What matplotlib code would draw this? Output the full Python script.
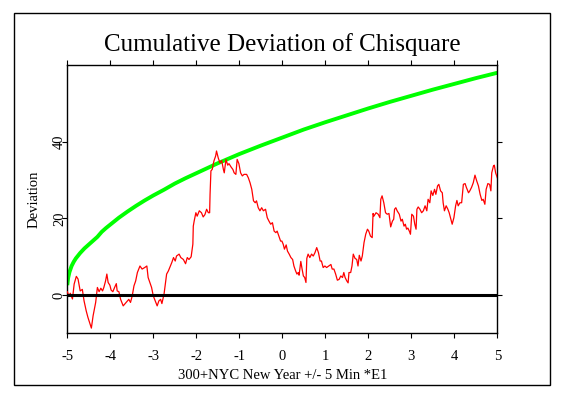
import matplotlib
matplotlib.use("Agg")
import matplotlib.pyplot as plt
from matplotlib.patches import Rectangle

# envelope (green)
env_x = [-5.0, -4.98, -4.95, -4.9, -4.85, -4.8, -4.7, -4.6, -4.5, -4.4,
         -4.3, -4.2, -4.1, -4.0, -3.8, -3.6, -3.4, -3.2, -3.0, -2.75,
         -2.5, -2.25, -2.0, -1.75, -1.5, -1.25, -1.0, -0.5, 0.0, 0.5,
         1.0, 1.5, 2.0, 2.5, 3.0, 3.5, 4.0, 4.5, 5.0]
env_y = [2.6, 4.5, 6.0, 7.6, 8.7, 9.6, 11.0, 12.2, 13.2, 14.2,
         15.2, 16.5, 17.5, 18.4, 20.2, 21.8, 23.3, 24.7, 26.0, 27.5,
         29.1, 30.5, 31.8, 33.1, 34.4, 35.6, 36.8, 39.0, 41.1, 43.2,
         45.1, 46.9, 48.7, 50.4, 52.0, 53.6, 55.1, 56.6, 58.0]

# cumulative deviation (red)
dev_x = [-5.00, -4.96, -4.93, -4.88, -4.84, -4.79, -4.75, -4.70, -4.65, -4.61,
         -4.56, -4.52, -4.47, -4.44, -4.40, -4.34, -4.30, -4.26, -4.22, -4.18,
         -4.15, -4.11, -4.08, -4.05, -4.01, -3.98, -3.94, -3.90, -3.86, -3.84,
         -3.80, -3.76, -3.70, -3.67, -3.60, -3.57, -3.53, -3.49, -3.45, -3.41,
         -3.37, -3.31, -3.26, -3.20, -3.15, -3.12, -3.08, -3.04, -3.00, -2.94,
         -2.91, -2.87, -2.83, -2.80, -2.75, -2.72, -2.69, -2.65, -2.61, -2.57,
         -2.53, -2.49, -2.46, -2.40, -2.36, -2.30, -2.25, -2.21, -2.17, -2.12,
         -2.08, -2.07, -2.05, -2.01, -1.98, -1.93, -1.88, -1.84, -1.80, -1.76,
         -1.72, -1.69, -1.68, -1.66, -1.63, -1.59, -1.55, -1.53, -1.49, -1.45,
         -1.41, -1.37, -1.35, -1.31, -1.27, -1.24, -1.19, -1.15, -1.12, -1.08,
         -1.05, -1.01, -0.97, -0.93, -0.89, -0.83, -0.79, -0.75, -0.71, -0.67,
         -0.63, -0.60, -0.56, -0.52, -0.48, -0.44, -0.39, -0.35, -0.31, -0.27,
         -0.23, -0.19, -0.15, -0.12, -0.08, -0.04, -0.01, 0.02, 0.05, 0.09,
         0.12, 0.16, 0.20, 0.24, 0.27, 0.31, 0.34, 0.37, 0.39, 0.43,
         0.46, 0.49, 0.52, 0.55, 0.57, 0.60, 0.64, 0.68, 0.72, 0.76,
         0.80, 0.84, 0.88, 0.91, 0.95, 0.99, 1.03, 1.08, 1.13, 1.16,
         1.20, 1.24, 1.28, 1.32, 1.36, 1.40, 1.43, 1.46, 1.50, 1.53,
         1.55, 1.59, 1.62, 1.65, 1.69, 1.73, 1.76, 1.79, 1.83, 1.86,
         1.90, 1.94, 1.98, 2.01, 2.05, 2.09, 2.11, 2.13, 2.18, 2.23,
         2.27, 2.29, 2.32, 2.36, 2.40, 2.44, 2.48, 2.52, 2.56, 2.59,
         2.61, 2.64, 2.67, 2.72, 2.76, 2.79, 2.83, 2.86, 2.89, 2.92,
         2.97, 2.98, 3.01, 3.05, 3.08, 3.11, 3.13, 3.16, 3.20, 3.24,
         3.28, 3.32, 3.36, 3.39, 3.43, 3.46, 3.50, 3.54, 3.57, 3.61,
         3.64, 3.68, 3.72, 3.74, 3.77, 3.81, 3.85, 3.88, 3.92, 3.95,
         3.99, 4.03, 4.06, 4.09, 4.13, 4.17, 4.21, 4.25, 4.28, 4.33,
         4.36, 4.40, 4.44, 4.48, 4.52, 4.56, 4.60, 4.64, 4.67, 4.71,
         4.74, 4.78, 4.82, 4.85, 4.87, 4.91, 4.93, 4.96, 5.00]
dev_y = [0.9, -0.2, 0.5, -1.0, 2.9, 4.9, 4.2, 1.1, 1.5, -1.5,
         -4.1, -5.8, -7.6, -8.6, -5.4, -1.9, 2.0, 0.9, 1.8, 1.1,
         2.0, 3.7, 5.5, 3.3, 2.6, 1.3, 0.9, 2.0, 3.0, 1.1,
         0.9, -1.1, -2.8, -2.4, -1.5, -1.1, -1.9, -0.2, 2.4, 3.7,
         5.9, 7.6, 6.8, 7.2, 7.6, 4.6, 3.3, 2.0, -0.2, -1.9,
         -2.8, -1.5, -1.1, -2.2, 0.3, 2.9, 5.5, 6.3, 7.4, 8.5,
         9.8, 8.9, 10.2, 10.7, 9.8, 9.3, 8.2, 9.8, 9.3, 10.0,
         13.3, 18.0, 19.3, 21.5, 20.6, 22.0, 21.5, 20.4, 21.0, 22.4,
         21.5, 21.5, 26.3, 32.4, 32.8, 35.0, 36.3, 37.6, 35.8, 34.5,
         35.1, 32.8, 31.9, 35.4, 33.9, 34.3, 33.4, 32.8, 31.9, 31.5,
         35.4, 34.3, 31.9, 31.1, 31.5, 31.5, 30.6, 29.3, 27.6, 24.6,
         24.1, 24.6, 22.8, 22.0, 22.8, 22.0, 22.4, 20.2, 19.3, 18.5,
         18.9, 16.7, 16.3, 16.7, 15.4, 14.1, 14.1, 13.3, 12.0, 13.1,
         11.5, 10.7, 9.8, 9.3, 7.6, 6.3, 5.5, 5.9, 5.2, 8.8,
         6.8, 5.0, 4.6, 3.3, 9.6, 10.7, 9.8, 10.7, 10.2, 11.1,
         12.4, 11.1, 8.9, 8.9, 7.2, 7.6, 7.2, 7.6, 8.0, 6.8,
         6.8, 5.5, 3.9, 4.1, 5.0, 4.6, 5.9, 4.6, 3.7, 3.2,
         5.9, 5.9, 7.6, 10.7, 9.6, 9.3, 7.6, 10.4, 8.9, 10.2,
         13.7, 15.9, 17.2, 16.7, 15.4, 15.0, 21.3, 20.6, 21.5, 21.1,
         20.2, 25.0, 25.9, 24.1, 21.5, 21.1, 21.3, 17.8, 19.3, 19.8,
         22.4, 22.8, 22.0, 21.1, 19.3, 19.8, 18.0, 18.5, 17.2, 17.5,
         16.3, 15.9, 21.1, 20.6, 18.5, 17.2, 22.4, 23.0, 22.4, 21.5,
         22.0, 23.3, 22.0, 25.0, 24.1, 27.2, 26.0, 27.6, 26.3, 28.5,
         28.9, 27.2, 26.7, 24.1, 22.0, 23.3, 22.4, 21.5, 19.8, 18.5,
         20.2, 23.3, 24.7, 23.3, 24.1, 24.1, 28.9, 29.1, 28.1, 26.7,
         27.2, 28.1, 29.3, 31.3, 29.8, 28.5, 26.3, 24.7, 25.0, 23.7,
         27.6, 29.1, 28.9, 27.2, 31.9, 33.7, 33.9, 31.9, 30.6]

x_ticks = [-5, -4, -3, -2, -1, 0, 1, 2, 3, 4, 5]
y_ticks = [0, 20, 40]

plt.rcParams["font.family"] = ["Liberation Serif", "DejaVu Serif"]

fig = plt.figure(figsize=(5.64, 3.97), dpi=100)
ax = fig.add_axes([0.1193, 0.160, 0.7625, 0.676])

# outer frame around the whole chart
fig.patches.append(Rectangle((0.0248, 0.030), 0.9504, 0.937, transform=fig.transFigure,
                             fill=False, edgecolor="black", linewidth=1.0))

ax.plot(env_x, env_y, color="#00ff00", linewidth=2.8, solid_capstyle="butt", zorder=2)
ax.plot(dev_x, dev_y, color="#ff0000", linewidth=0.9, zorder=3)
ax.axhline(0, color="black", linewidth=2.2, zorder=4)

ax.set_xlim(-5, 5)
ax.set_ylim(-10, 60)
ax.set_xticks(x_ticks)
ax.set_xticklabels([str(t) for t in x_ticks])
ax.set_yticks(y_ticks)
ax.set_yticklabels([str(t) for t in y_ticks], rotation=90, va="center")

ax.tick_params(axis="both", direction="out", length=3.5, width=0.8, labelsize=10.5,
               top=True, right=True, labeltop=False, labelright=False)
ax.tick_params(axis="x", pad=8.5)
ax.tick_params(axis="y", pad=-2.5)
for s in ax.spines.values():
    s.set_linewidth(1.0)

ax.set_title("Cumulative Deviation of Chisquare", fontsize=18, pad=10)
ax.set_xlabel("300+NYC New Year +/- 5 Min *E1", fontsize=10.5, labelpad=4)
ax.set_ylabel("Deviation", fontsize=10.5, labelpad=9)

fig.savefig("out.png", dpi=100)
